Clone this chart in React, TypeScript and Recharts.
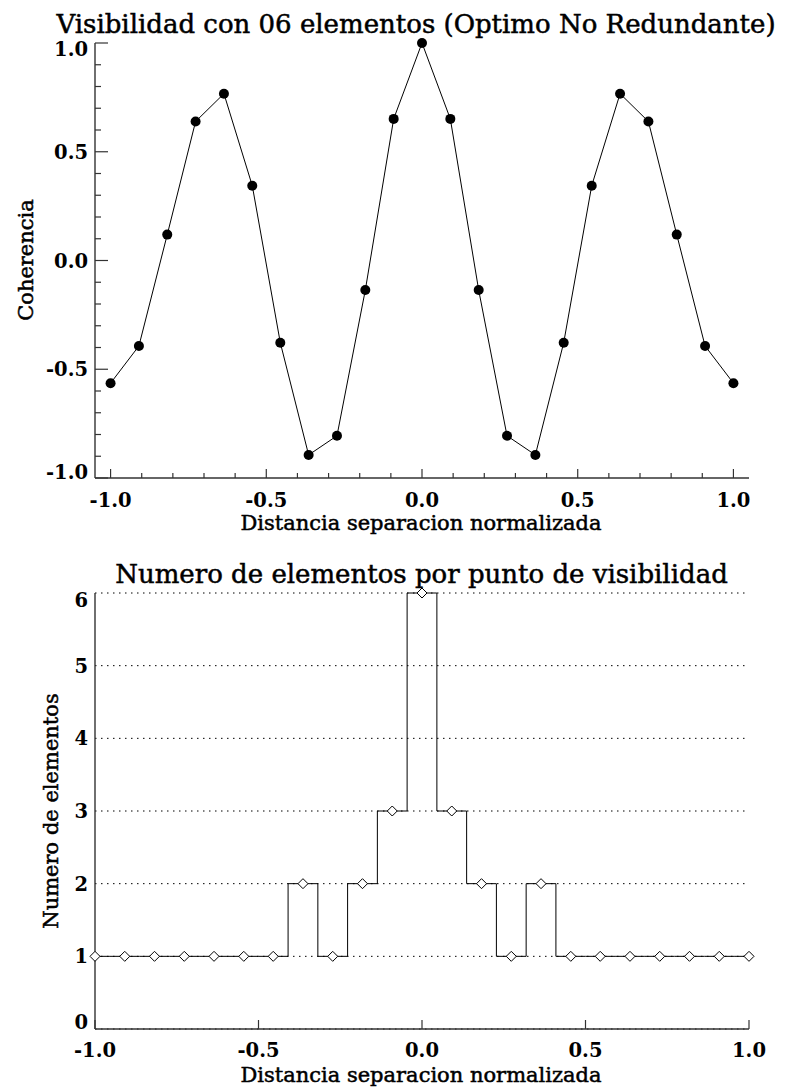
import React from 'react';
import { LineChart, Line, XAxis, YAxis, CartesianGrid } from 'recharts';

// ---------- data ----------
const separation = [
  -1, -0.909, -0.818, -0.727, -0.636, -0.545, -0.455, -0.364, -0.273, -0.182, -0.091, 0,
  0.091, 0.182, 0.273, 0.364, 0.455, 0.545, 0.636, 0.727, 0.818, 0.909, 1,
];
const coherence = [
  -0.564, -0.393, 0.119, 0.639, 0.767, 0.344, -0.378, -0.894, -0.806, -0.136, 0.651, 1.0,
  0.651, -0.136, -0.806, -0.894, -0.378, 0.344, 0.767, 0.639, 0.119, -0.393, -0.564,
];
const elementCount = [1, 1, 1, 1, 1, 1, 1, 2, 1, 2, 3, 6, 3, 2, 1, 2, 1, 1, 1, 1, 1, 1, 1];

const fineTicks = [
  -1, -0.9, -0.8, -0.7, -0.6, -0.5, -0.4, -0.3, -0.2, -0.1, 0,
  0.1, 0.2, 0.3, 0.4, 0.5, 0.6, 0.7, 0.8, 0.9, 1,
];
const majorTicks = [-1, -0.5, 0, 0.5, 1];
const countTicks = [0, 1, 2, 3, 4, 5, 6];

const title1 = 'Visibilidad con 06 elementos (Optimo No Redundante)';
const title2 = 'Numero de elementos por punto de visibilidad';
const xTitle = 'Distancia separacion normalizada';
const yTitle1 = 'Coherencia';
const yTitle2 = 'Numero de elementos';

const topData = separation.map((x, i) => ({ x, c: coherence[i] }));
const bottomData = separation.map((x, i) => ({ x, n: elementCount[i] }));

// ---------- styles ----------
const FONT = '"DejaVu Serif", serif';
const AXIS = '#333';
const TICK_FS = 19.5;
const TITLE_FS = 26;
const LABEL_FS = 21;

const isMajor = (v: number) => Math.abs(v * 2 - Math.round(v * 2)) < 1e-6;
const fmt1 = (v: number) => (Math.abs(v) < 1e-9 ? 0 : v).toFixed(1);

// tick renderers (x/y supplied by the axis at the axis line)
const makeBottomTick = (majorLen: number, minorLen: number, showLabel: boolean, labelDy: number, minorOn: boolean, fmt: (v: number) => string) =>
  (p: any) => {
    const v = p.payload.value;
    const major = isMajor(v);
    if (!major && !minorOn) return <g />;
    return (
      <g>
        <line x1={p.x} x2={p.x} y1={p.y} y2={p.y - (major ? majorLen : minorLen)} stroke={AXIS} strokeWidth={1.2} />
        {showLabel && major && (
          <text x={p.x} y={p.y + labelDy} textAnchor="middle" fontFamily={FONT} fontWeight="bold" fontSize={TICK_FS} fill="#000">
            {fmt(v)}
          </text>
        )}
      </g>
    );
  };

const makeTopTick = (majorLen: number, minorLen: number, minorOn: boolean) => (p: any) => {
  const v = p.payload.value;
  const major = isMajor(v);
  if (!major && !minorOn) return <g />;
  return <line x1={p.x} x2={p.x} y1={p.y} y2={p.y + (major ? majorLen : minorLen)} stroke={AXIS} strokeWidth={1.2} />;
};

const makeLeftTick = (
  majorLen: number,
  minorLen: number,
  isMaj: (v: number) => boolean,
  fmt: (v: number) => string,
  min: number,
  max: number,
  endShift: number
) => (p: any) => {
  const v = p.payload.value;
  const major = isMaj(v);
  let dy = 7;
  if (Math.abs(v - max) < 1e-9) dy += endShift;
  if (Math.abs(v - min) < 1e-9) dy -= endShift;
  return (
    <g>
      {(major ? majorLen : minorLen) > 0 && (
        <line x1={p.x} x2={p.x + (major ? majorLen : minorLen)} y1={p.y} y2={p.y} stroke={AXIS} strokeWidth={1.2} />
      )}
      {major && (
        <text x={p.x - 7} y={p.y + dy} textAnchor="end" fontFamily={FONT} fontWeight="bold" fontSize={TICK_FS} fill="#000">
          {fmt(v)}
        </text>
      )}
    </g>
  );
};

const makeRightTick = (majorLen: number, minorLen: number) => (p: any) => {
  const v = p.payload.value;
  const major = isMajor(v);
  return <line x1={p.x} x2={p.x - (major ? majorLen : minorLen)} y1={p.y} y2={p.y} stroke={AXIS} strokeWidth={1.2} />;
};

const Diamond = (p: any) => {
  const { cx, cy } = p;
  if (cx == null || cy == null) return <g />;
  const s = 5;
  return (
    <polygon
      key={`d-${p.index}`}
      points={`${cx},${cy - s} ${cx + s},${cy} ${cx},${cy + s} ${cx - s},${cy}`}
      fill="#fff"
      stroke="#000"
      strokeWidth={1}
    />
  );
};

const axisLine = { stroke: AXIS, strokeWidth: 1.4 };
const heavy = { stroke: '#000', strokeWidth: 0.5 };

export default function App() {
  return (
    <div style={{ position: 'absolute', left: 0, top: 0, width: 788, height: 1090, background: '#fff' }}>
      {/* Top chart: plot area x 95..749, y 43..478 */}
      <div style={{ position: 'absolute', left: 0, top: 0 }}>
        <LineChart width={788} height={540} data={topData} margin={{ top: 43, right: 39, bottom: 0, left: 0 }}>
          <XAxis
            xAxisId="b"
            dataKey="x"
            type="number"
            domain={[-1.05, 1.05]}
            ticks={fineTicks}
            interval={0}
            height={62}
            tickLine={false}
            tickSize={0}
            tickMargin={0}
            axisLine={axisLine}
            tick={makeBottomTick(9, 5, true, 29, true, fmt1)}
          />
          <XAxis
            xAxisId="t"
            orientation="top"
            dataKey="x"
            type="number"
            domain={[-1.05, 1.05]}
            ticks={fineTicks}
            interval={0}
            height={0}
            tickLine={false}
            tickSize={0}
            tickMargin={0}
            axisLine={axisLine}
            tick={makeTopTick(10, 4, true)}
          />
          <YAxis
            yAxisId="l"
            type="number"
            domain={[-1, 1]}
            ticks={fineTicks}
            interval={0}
            width={95}
            tickLine={false}
            tickSize={0}
            tickMargin={0}
            axisLine={axisLine}
            tick={makeLeftTick(13, 6, isMajor, fmt1, -1, 1, 6)}
          />
          <YAxis
            yAxisId="r"
            orientation="right"
            type="number"
            domain={[-1, 1]}
            ticks={fineTicks}
            interval={0}
            width={0}
            tickLine={false}
            tickSize={0}
            tickMargin={0}
            axisLine={axisLine}
            tick={makeRightTick(13, 6)}
          />
          <Line
            xAxisId="b"
            yAxisId="l"
            dataKey="c"
            type="linear"
            stroke="#000"
            strokeWidth={1}
            dot={{ r: 5, fill: '#000', stroke: '#000', strokeWidth: 0 }}
            isAnimationActive={false}
          />
        </LineChart>
      </div>

      {/* Bottom chart: plot area x 95..749, y 593..1029 */}
      <div style={{ position: 'absolute', left: 0, top: 540 }}>
        <LineChart width={788} height={550} data={bottomData} margin={{ top: 53, right: 39, bottom: 0, left: 0 }}>
          <CartesianGrid xAxisId="b" yAxisId="l" vertical={false} stroke="#000" strokeWidth={1} strokeDasharray="1.5 4.5" />
          <XAxis
            xAxisId="b"
            dataKey="x"
            type="number"
            domain={[-1, 1]}
            ticks={majorTicks}
            interval={0}
            height={61}
            tickLine={false}
            tickSize={0}
            tickMargin={0}
            axisLine={axisLine}
            tick={makeBottomTick(9, 0, true, 28, false, fmt1)}
          />
          <XAxis
            xAxisId="t"
            orientation="top"
            dataKey="x"
            type="number"
            domain={[-1, 1]}
            ticks={majorTicks}
            interval={0}
            height={0}
            tickLine={false}
            tickSize={0}
            tickMargin={0}
            axisLine={axisLine}
            tick={makeTopTick(8, 0, false)}
          />
          <YAxis
            yAxisId="l"
            type="number"
            domain={[0, 6]}
            ticks={countTicks}
            interval={0}
            width={95}
            tickLine={false}
            tickSize={0}
            tickMargin={0}
            axisLine={axisLine}
            tick={makeLeftTick(0, 0, () => true, (v) => String(v), 0, 6, 7)}
          />
          <YAxis
            yAxisId="r"
            orientation="right"
            type="number"
            domain={[0, 6]}
            ticks={countTicks}
            width={0}
            tick={false}
            tickLine={false}
            axisLine={axisLine}
          />
          <Line
            xAxisId="b"
            yAxisId="l"
            dataKey="n"
            type="step"
            stroke="#000"
            strokeWidth={1}
            dot={Diamond}
            isAnimationActive={false}
          />
        </LineChart>
      </div>

      {/* Titles */}
      <svg width={788} height={1090} style={{ position: 'absolute', left: 0, top: 0, pointerEvents: 'none' }}>
        <text x={416} y={33} textAnchor="middle" fontFamily={FONT} fontSize={TITLE_FS} fill="#000" {...heavy}>{title1}</text>
        <text x={421} y={530} textAnchor="middle" fontFamily={FONT} fontSize={LABEL_FS} fill="#000" {...heavy}>{xTitle}</text>
        <text x={33} y={260} textAnchor="middle" fontFamily={FONT} fontSize={LABEL_FS} fill="#000" transform="rotate(-90 33 260)" {...heavy}>{yTitle1}</text>
        <text x={421.5} y={583} textAnchor="middle" fontFamily={FONT} fontSize={TITLE_FS} fill="#000" {...heavy}>{title2}</text>
        <text x={421} y={1082} textAnchor="middle" fontFamily={FONT} fontSize={LABEL_FS} fill="#000" {...heavy}>{xTitle}</text>
        <text x={58} y={811} textAnchor="middle" fontFamily={FONT} fontSize={LABEL_FS} fill="#000" transform="rotate(-90 58 811)" {...heavy}>{yTitle2}</text>
      </svg>
    </div>
  );
}
